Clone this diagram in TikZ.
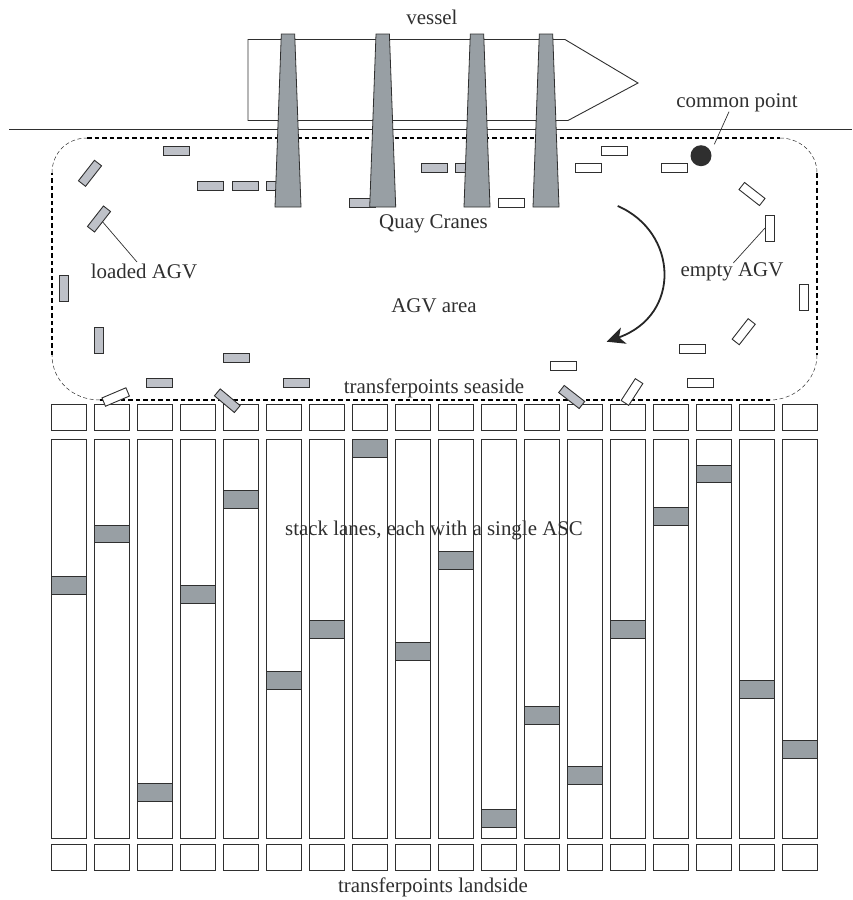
\documentclass[tikz,border=0pt]{standalone}
\usepackage{fontspec}
\setmainfont{Liberation Serif}
\usepackage{xcolor}
\usepackage{tikz}
\usetikzlibrary{arrows.meta}
\definecolor{cranegray}{HTML}{989FA4}
\definecolor{loadedgray}{HTML}{BEC1C8}
\definecolor{inkline}{HTML}{2F2F2F}
\tikzset{
    agvbox/.style={draw=inkline, line width=0.9pt, minimum width=26pt, minimum height=9pt, inner sep=0pt, outer sep=0pt},
    loadedagv/.style={agvbox, fill=loadedgray},
    emptyagv/.style={agvbox, fill=white},
    lanebox/.style={draw=inkline, line width=0.9pt, fill=white, minimum width=34.7pt, inner sep=0pt, outer sep=0pt},
    ascbox/.style={draw=inkline, line width=0.8pt, fill=cranegray, minimum width=34.7pt, minimum height=17.5pt, inner sep=0pt, outer sep=0pt},
    crane/.style={draw=inkline, line width=0.8pt, fill=cranegray},
    label/.style={font=\fontsize{20.9}{23}\selectfont, text=inkline, inner sep=0pt},
    leader/.style={draw=inkline, line width=0.7pt}
}
\begin{document}
\begin{tikzpicture}[x=1pt, y=-1pt]
    \useasboundingbox (0,0) rectangle (852,900);
    
    % Vessel and quay wall
    \draw[draw=inkline, line width=0.9pt] (248,39.5) -- (565,39.5) -- (638,83) -- (568,120.5) -- (248,120.5) -- cycle;
    \draw[draw=inkline, line width=0.9pt] (9,129) -- (852,129);
    
    % AGV area, straight parts heavier than the corners
    \draw[draw=black, line width=1.6pt, dash pattern=on 4.5pt off 3pt] (87,138) -- (780,138);
    \draw[draw=black, line width=1.6pt, dash pattern=on 4.5pt off 3pt] (817,173) -- (817,355);
    \draw[draw=black, line width=1.6pt, dash pattern=on 4.5pt off 3pt] (770,400) -- (100,400);
    \draw[draw=black, line width=1.6pt, dash pattern=on 4.5pt off 3pt] (52,355) -- (52,173);
    \draw[draw=inkline, line width=0.5pt, dash pattern=on 4pt off 2.5pt] (52,173) .. controls (52,153) and (67,138) .. (87,138);
    \draw[draw=inkline, line width=0.5pt, dash pattern=on 4pt off 2.5pt] (780,138) .. controls (800,138) and (817,153) .. (817,173);
    \draw[draw=inkline, line width=0.5pt, dash pattern=on 4pt off 2.5pt] (817,355) .. controls (817,380) and (795,400) .. (770,400);
    \draw[draw=inkline, line width=0.5pt, dash pattern=on 4pt off 2.5pt] (100,400) .. controls (72,400) and (52,380) .. (52,355);
    
    % Transferpoints and stack lanes
    \foreach \col/\asc in {1/585.5, 2/534, 3/792.5, 4/594.5, 5/499.5, 6/680.5, 7/629.5, 8/448.3, 9/651.5, 10/560.5, 11/818.5, 12/715.5, 13/775.5, 14/629.5, 15/516.5, 16/474, 17/689.5, 18/749.5} {
        \pgfmathsetmacro{\colx}{68.7+43*(\col-1)}
        \node[lanebox, minimum height=26pt] (seaside\col) at (\colx,417.7) {};
        \node[lanebox, minimum height=398.5pt] (lane\col) at (\colx,638.7) {};
        \node[lanebox, minimum height=26pt] (landside\col) at (\colx,857.5) {};
        \node[ascbox] (asc\col) at (\colx,\asc) {};
    }
    
    % Loaded AGVs
    \foreach \name/\ax/\ay/\ang in {la/176/150.5/0, lb/210.5/185.5/0, lc/245/185.5/0, ld/279/185.5/0, le/362/202.5/0, lf/434/168/0, lg/468/168/0, lh/90/173.3/52, loadedagv/99/219/52, li/64.3/288.3/90, lj/99/340.3/90, lk/159/383.3/0, ll/236/357.7/0, lm/296.3/383.3/0, ln/227.3/400.7/-40, lo/571.7/397/-38} {
        \node[loadedagv, rotate=\ang] (\name) at (\ax,\ay) {};
    }
    
    % Empty AGVs
    \foreach \name/\ax/\ay/\ang in {ea/614.5/150.8/0, eb/588.7/168/0, ec/674.7/168/0, ed/511.7/202.5/0, ee/752/194/-38, emptyagv/769.5/228/90, ef/804/297/90, eg/743.7/331.7/52, eh/692/349/0, ei/700.7/383.3/0, ej/563.3/366/0, ek/632/392/57, el/115.7/397/23} {
        \node[emptyagv, rotate=\ang] (\name) at (\ax,\ay) {};
    }
    
    % Quay cranes
    \foreach \cx in {288, 382.7, 477, 546} {
        \draw[crane] (\cx-6.7,34) -- (\cx+6.7,34) -- (\cx+13,207) -- (\cx-13,207) -- cycle;
    }
    
    % Common point
    \node[circle, fill=inkline, minimum size=21pt, inner sep=0pt] (commonpoint) at (701,155.7) {};
    
    % Driving direction
    \coordinate (turnstart) at (617.7,206);
    \coordinate (turnend) at (606.7,341.7);
    \draw[-{Stealth[length=18pt, width=17pt, inset=5pt]}, draw=black!85, line width=1.8pt] (turnstart) .. controls (678,232) and (682,315) .. (turnend);
    
    % Labels
    \node[label] (vessellabel) at (432,17) {vessel};
    \node[label] (commonlabel) at (737,102.5) {common point};
    \node[label] (quaylabel) at (433.5,223.5) {Quay Cranes};
    \node[label] (loadedlabel) at (144,271.5) {loaded AGV};
    \node[label] (emptylabel) at (732,271.5) {empty AGV};
    \node[label] (arealabel) at (434,306) {AGV area};
    \node[label] (seasidelabel) at (434,388) {transferpoints seaside};
    \node[label] (stacklabel) at (434,530) {stack lanes, each with a single ASC};
    \node[label] (landsidelabel) at (433,887) {transferpoints landside};
    
    % Leader lines
    \coordinate (loadedtip) at (137,262);
    \coordinate (emptytip) at (733.3,263);
    \coordinate (commontip) at (729,111.7);
    \coordinate (pointtip) at (714.3,144.3);
    \draw[leader] (loadedagv.south) -- (loadedtip);
    \draw[leader] (emptyagv.north) -- (emptytip);
    \draw[leader] (commontip) -- (pointtip);
\end{tikzpicture}
\end{document}
